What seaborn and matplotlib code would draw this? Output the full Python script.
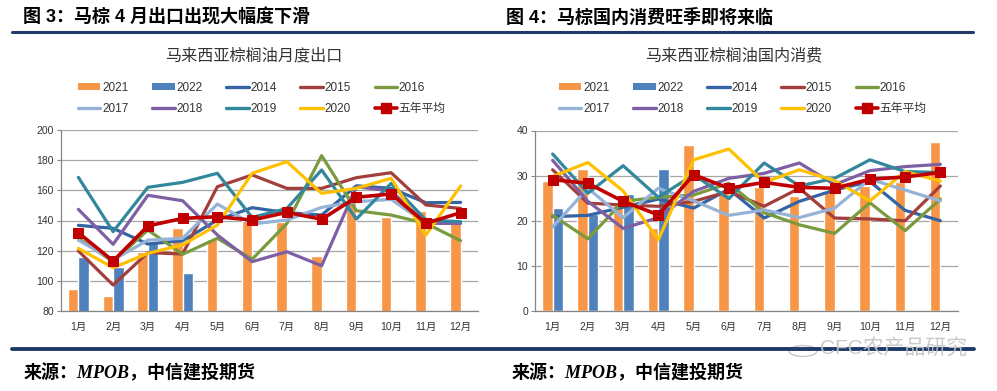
import numpy as np
import pandas as pd
import matplotlib
matplotlib.use("Agg")
import matplotlib.pyplot as plt
import seaborn as sns
from matplotlib.patches import Patch, Circle
from matplotlib.lines import Line2D

# ---------------- data ----------------
months = ['1月', '2月', '3月', '4月', '5月', '6月', '7月', '8月', '9月', '10月', '11月', '12月']
bar_years = ['2021', '2022']
line_years = ['2014', '2015', '2016', '2017', '2018', '2019', '2020']
avg_label = '五年平均'

# Fig 3: monthly exports
exp_2021 = [94.6, 90.0, 119.0, 135.0, 127.7, 140.0, 139.0, 116.7, 157.0, 142.0, 146.5, 141.0]
exp_2022 = [116.0, 109.5, 125.0, 105.0, None, None, None, None, None, None, None, None]
exp_2014 = [136.8, 134.8, 124.4, 126.6, 140.3, 148.5, 145.2, 143.6, 163.0, 161.3, 151.8, 152.0]
exp_2015 = [119.8, 97.2, 118.7, 117.8, 162.4, 170.2, 161.3, 161.3, 168.4, 171.7, 150.3, 148.0]
exp_2016 = [128.2, 112.7, 133.7, 117.6, 128.2, 114.3, 138.0, 183.0, 146.5, 143.6, 138.1, 126.6]
exp_2017 = [127.0, 113.8, 127.0, 128.2, 150.9, 137.7, 140.3, 148.7, 152.5, 154.0, 138.1, 139.2]
exp_2018 = [147.4, 124.2, 156.7, 153.1, 130.4, 112.7, 119.3, 110.0, 162.4, 159.6, 138.1, 138.1]
exp_2019 = [168.6, 132.6, 162.0, 165.3, 171.3, 142.0, 148.0, 173.5, 141.0, 164.6, 140.3, 139.2]
exp_2020 = [121.5, 108.7, 118.2, 123.8, 137.0, 171.3, 179.0, 158.0, 161.3, 168.0, 130.4, 162.9]
exp_avg = [131.9, 113.1, 136.4, 141.4, 142.5, 140.3, 145.4, 140.8, 155.4, 157.6, 138.1, 145.2]

# Fig 4: domestic consumption
con_2021 = [28.8, 31.4, 23.7, 18.5, 36.8, 26.8, 27.5, 25.5, 26.5, 27.7, 28.5, 37.4]
con_2022 = [22.8, 21.5, 26.0, 31.5, None, None, None, None, None, None, None, None]
con_2014 = [20.9, 21.2, 23.0, 24.8, 22.8, 27.0, 20.6, 24.3, 26.8, 28.7, 22.3, 20.0]
con_2015 = [31.3, 23.9, 23.5, 23.2, 24.3, 26.5, 23.2, 27.2, 20.6, 20.4, 20.0, 27.7]
con_2016 = [21.2, 16.0, 24.3, 25.2, 25.7, 28.3, 21.8, 19.1, 17.2, 24.0, 17.8, 24.8]
con_2017 = [18.6, 27.2, 20.7, 27.2, 24.4, 21.2, 22.4, 20.7, 22.8, 29.2, 26.8, 24.4]
con_2018 = [33.4, 24.3, 18.3, 20.7, 26.5, 29.4, 30.5, 32.8, 28.0, 31.1, 32.0, 32.5]
con_2019 = [34.8, 26.1, 32.2, 25.2, 30.2, 24.9, 32.8, 27.7, 29.4, 33.5, 30.9, 30.7]
con_2020 = [29.8, 32.9, 26.6, 15.8, 33.5, 35.9, 28.5, 31.3, 28.9, 24.4, 30.9, 28.8]
con_avg = [29.1, 28.3, 24.3, 21.3, 30.2, 27.2, 28.5, 27.4, 27.2, 29.2, 29.7, 30.7]

left_ticks = [80, 100, 120, 140, 160, 180, 200]
right_ticks = [0, 10, 20, 30, 40]

# ---------------- styles ----------------
bar_colors = {'2021': '#f79646', '2022': '#4f81bd'}
line_colors = {'2014': '#3464a3', '2015': '#a23f3c', '2016': '#7a9a3e', '2017': '#95b3d7',
               '2018': '#7e5fa3', '2019': '#31879c', '2020': '#ffc000'}
avg_color = '#c00000'
navy = '#1f3a68'

sns.set_style("white")
plt.rcParams['font.family'] = ['Liberation Sans', 'Noto Sans CJK SC', 'DejaVu Sans']
plt.rcParams['axes.unicode_minus'] = False

W, H = 997, 391
fig = plt.figure(figsize=(W / 100, H / 100), dpi=100)


def fx(px):
    return px / W


def fy(py):
    return 1 - py / H


def draw_panel(rect, bars, lines, avg, ylim, yticks):
    ax = fig.add_axes(rect)
    idx = list(range(len(months)))
    bdf = pd.DataFrame({
        'm': idx * 2,
        'v': [np.nan if v is None else v for v in bars[0]] + [np.nan if v is None else v for v in bars[1]],
        'y': [bar_years[0]] * 12 + [bar_years[1]] * 12,
    })
    sns.barplot(data=bdf, x='m', y='v', hue='y', hue_order=bar_years, palette=bar_colors,
                width=0.6, dodge=True, gap=0, saturation=1, legend=False, ax=ax,
                order=idx, errorbar=None, zorder=2)
    ldf = pd.DataFrame({
        'm': idx * len(line_years),
        'v': sum([lines[y] for y in line_years], []),
        'y': sum([[y] * 12 for y in line_years], []),
    })
    sns.lineplot(data=ldf, x='m', y='v', hue='y', hue_order=line_years, palette=line_colors,
                 linewidth=2.3, sort=False, legend=False, ax=ax, zorder=3)
    adf = pd.DataFrame({'m': idx, 'v': avg})
    sns.lineplot(data=adf, x='m', y='v', color=avg_color, linewidth=2.6, marker='s',
                 markersize=7.8, markeredgecolor=avg_color, sort=False, legend=False,
                 ax=ax, zorder=4)
    ax.set_xlim(-0.5, 11.5)
    ax.set_ylim(*ylim)
    ax.set_yticks(yticks)
    ax.set_xticks(idx)
    ax.set_xticklabels(months)
    ax.set_xticks(np.arange(-0.5, 12, 1), minor=True)
    ax.tick_params(axis='x', which='major', length=0, labelsize=7.5, pad=8, colors='#333333')
    ax.tick_params(axis='x', which='minor', length=4, width=0.8, color='#868686', direction='out')
    ax.tick_params(axis='y', length=3, width=0.8, color='#868686', labelsize=7.5,
                   colors='#333333', left=True, direction='out', pad=2)
    ax.set_xlabel('')
    ax.set_ylabel('')
    ax.yaxis.grid(True, color='#a6a6a6', linewidth=0.9, zorder=0)
    ax.set_axisbelow(True)
    for s in ['top', 'right']:
        ax.spines[s].set_visible(False)
    for s in ['left', 'bottom']:
        ax.spines[s].set_color('#868686')
        ax.spines[s].set_linewidth(0.9)
    return ax


exp_lines = {'2014': exp_2014, '2015': exp_2015, '2016': exp_2016, '2017': exp_2017,
             '2018': exp_2018, '2019': exp_2019, '2020': exp_2020}
con_lines = {'2014': con_2014, '2015': con_2015, '2016': con_2016, '2017': con_2017,
             '2018': con_2018, '2019': con_2019, '2020': con_2020}

axL = draw_panel([fx(61), fy(311), fx(478 - 61), (311 - 130) / H],
                 (exp_2021, exp_2022), exp_lines, exp_avg, (80, 200), left_ticks)
axR = draw_panel([fx(535), fy(311), fx(958 - 535), (311 - 130.5) / H],
                 (con_2021, con_2022), con_lines, con_avg, (0, 40), right_ticks)


# legends (row-major order via column-major filling)
def make_legend(ax, x_px):
    handles = [Patch(facecolor=bar_colors[y], edgecolor='none', label=y) for y in bar_years]
    handles += [Line2D([], [], color=line_colors[y], linewidth=2.4, label=y) for y in line_years]
    handles += [Line2D([], [], color=avg_color, linewidth=2.6, marker='s', markersize=7,
                       label=avg_label)]
    row1 = handles[:5]
    row2 = handles[5:]
    ordered = []
    for a, b in zip(row1, row2):
        ordered += [a, b]
    leg = fig.legend(handles=ordered, labels=[h.get_label() for h in ordered], ncol=5,
                     loc='upper left', bbox_to_anchor=(fx(x_px), fy(82)), frameon=False,
                     fontsize=8.5, handlelength=1.9, handleheight=0.55, handletextpad=0.15,
                     columnspacing=2.0, labelspacing=0.75, borderaxespad=0, borderpad=0,
                     labelcolor='#333333')
    return leg


make_legend(axL, 78)
make_legend(axR, 559)

# headers
fig.text(fx(23), fy(17.5), '图 3：马棕 4 月出口出现大幅度下滑', fontsize=13, fontweight='bold',
         ha='left', va='center', color='black', family=['Liberation Sans', 'Noto Sans CJK SC'])
fig.text(fx(506), fy(17.5), '图 4：马棕国内消费旺季即将来临', fontsize=13, fontweight='bold',
         ha='left', va='center', color='black', family=['Liberation Sans', 'Noto Sans CJK SC'])
fig.add_artist(Line2D([fx(12), fx(973)], [fy(32), fy(32)], color=navy, linewidth=2.2))

fig.text(fx(254), fy(56), '马来西亚棕榈油月度出口', fontsize=11.6, ha='center', va='center',
         color='#333333', family=['Noto Sans CJK SC'])
fig.text(fx(734), fy(56), '马来西亚棕榈油国内消费', fontsize=11.6, ha='center', va='center',
         color='#333333', family=['Noto Sans CJK SC'])

# footer
fig.add_artist(Line2D([fx(12), fx(974)], [fy(349), fy(349)], color=navy, linewidth=2.8))
for x0 in (24, 512):
    fig.text(fx(x0), fy(373), '来源：MPOB，中信建投期货', fontsize=13, fontweight='bold',
             style='italic', ha='left', va='center', color='black',
             family=['Liberation Serif', 'Noto Sans CJK SC'])

# watermark
fig.add_artist(Circle((fx(803), fy(351)), 0.014, transform=fig.transFigure, fill=False,
                      edgecolor='#c8c8c8', linewidth=1.0))
fig.text(fx(820), fy(349), 'CFC农产品研究', fontsize=15, ha='left', va='center',
         color='#c4c4c4', alpha=0.9, family=['Liberation Sans', 'Noto Sans CJK SC'])

fig.savefig('out.png', dpi=100)
